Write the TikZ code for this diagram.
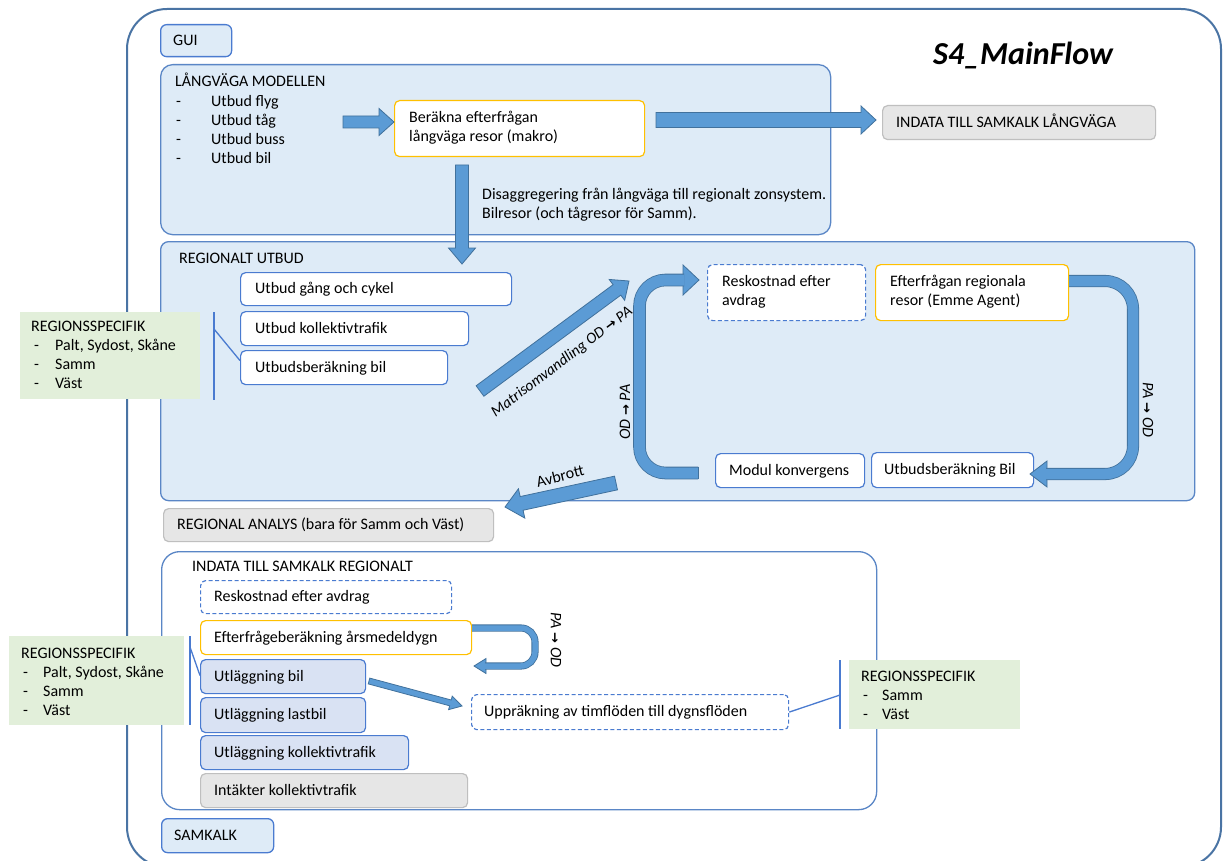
\documentclass[tikz,border=0pt]{standalone}
\usepackage{fontspec}
\setmainfont{Carlito}
\newfontfamily\symf{DejaVu Sans}
\usetikzlibrary{calc}
\definecolor{regfill}{HTML}{DEEBF7}
\definecolor{regdraw}{HTML}{5A86C6}
\definecolor{framec}{HTML}{4A74A4}
\definecolor{boxdraw}{HTML}{4A7BD0}
\definecolor{arrfill}{HTML}{5B9BD5}
\definecolor{arrdraw}{HTML}{41719C}
\definecolor{orng}{HTML}{FFC000}
\definecolor{grayfill}{HTML}{E6E6E6}
\definecolor{graydraw}{HTML}{BFBFBF}
\definecolor{grn}{HTML}{E2EFDA}
\definecolor{utlfill}{HTML}{D9E2F3}
% straight block arrow: #1 tail, #2 tip, #3 half shaft, #4 half head, #5 head length
\newcommand{\barrow}[5]{%
  \coordinate (baC) at ($(#2)!#5!(#1)$);
  \filldraw[blockarrow] ($(#1)!#3!90:(#2)$) -- ($(baC)!#3!-90:(#1)$) -- ($(baC)!#4!-90:(#1)$) -- (#2) -- ($(baC)!#4!90:(#1)$) -- ($(baC)!#3!90:(#1)$) -- ($(#1)!#3!-90:(#2)$) -- cycle;}
% arrow head only: #1 base centre, #2 tip, #3 half width
\newcommand{\lhead}[3]{%
  \filldraw[blockarrow] ($(#1)!#3!90:(#2)$) -- (#2) -- ($(#1)!#3!-90:(#2)$) -- cycle;}
\newcommand{\rarr}{{\upshape\symf\bfseries\fontsize{13}{15}\selectfont →}}
\tikzset{
  region/.style={draw=regdraw, fill=regfill, line width=1.3pt, anchor=north west, inner sep=0pt},
  wbox/.style={draw=boxdraw, fill=white, line width=1.2pt, rounded corners=5pt, anchor=north west, inner sep=0pt},
  obox/.style={wbox, draw=orng},
  dbox/.style={wbox, dash pattern=on 4pt off 2.5pt},
  gbox/.style={wbox, draw=graydraw, fill=grayfill},
  ubox/.style={wbox, fill=utlfill},
  greenbox/.style={fill=grn, anchor=north west, inner sep=0pt},
  tone/.style={anchor=west, inner sep=0pt, text height=12pt, text depth=3pt},
  ttwo/.style={anchor=west, inner sep=0pt, align=left},
  tline/.style={anchor=base west, inner sep=0pt},
  lbl/.style={inner sep=0pt, font=\fontsize{16}{19}\selectfont\itshape},
  blockarrow/.style={fill=arrfill, draw=arrdraw, line width=0.8pt, line join=miter},
  shaft/.style={draw=arrdraw, line width=0.8pt, double=arrfill, double distance=#1},
  endcap/.style={draw=arrdraw, line width=0.8pt},
  bracket/.style={draw=boxdraw, line width=1.3pt},
}
\begin{document}
\begin{tikzpicture}[x=1pt,y=-1pt,font=\fontsize{16}{19.5}\selectfont]
\fill[white] (0,0) rectangle (1230,861);
\useasboundingbox (0,0) rectangle (1230,861);
% outer frame
\draw[draw=framec, line width=2pt, rounded corners=40pt] (127,9) rectangle (1221,867);
\node[font=\fontsize{32}{38}\selectfont\bfseries\itshape, inner sep=0pt] (title) at (1023,55) {S4\_MainFlow};

% GUI
\node[region, draw=boxdraw, rounded corners=6pt, minimum width=71, minimum height=32] (gui) at (160,24) {};
\node[tone] at ($(gui.west)+(13,0)$) {GUI};

% LANGVAGA
\node[region, rounded corners=12pt, minimum width=670, minimum height=170] (lv) at (160,64) {};
\node[tline] at (175,87) {LÅNGVÄGA MODELLEN};
\node[tline] at (176,107) {-};\node[tline] at (211,107) {Utbud flyg};
\node[tline] at (176,126) {-};\node[tline] at (211,126) {Utbud tåg};
\node[tline] at (176,145) {-};\node[tline] at (211,145) {Utbud buss};
\node[tline] at (176,164) {-};\node[tline] at (211,164) {Utbud bil};
\node[obox, minimum width=250, minimum height=56] (ber) at (394,100) {};
\node[ttwo] at ($(ber.west)+(15,-1)$) {Beräkna efterfrågan\\långväga resor (makro)};
\node[tline] at (482,199) {Disaggregering från långväga till regionalt zonsystem.};
\node[tline] at (482,218) {Bilresor (och tågresor för Samm).};

\node[gbox, minimum width=273, minimum height=34] (ilv) at (882,105) {};
\node[tone] at ($(ilv.west)+(14,0)$) {INDATA TILL SAMKALK LÅNGVÄGA};

% REGIONALT UTBUD
\node[region, rounded corners=8pt, minimum width=1034, minimum height=259] (ru) at (160,241) {};
\node[tline] at (179,263) {REGIONALT UTBUD};
\node[wbox, minimum width=271, minimum height=33] (ugc) at (240,272) {};
\node[tone] at ($(ugc.west)+(15,0)$) {Utbud gång och cykel};
\node[wbox, minimum width=228, minimum height=34] (ukt) at (240,311) {};
\node[tone] at ($(ukt.west)+(15,0)$) {Utbud kollektivtrafik};
\node[wbox, minimum width=207, minimum height=34] (ubil) at (240,350) {};
\node[tone] at ($(ubil.west)+(15,0)$) {Utbudsberäkning bil};

\node[dbox, minimum width=158, minimum height=56] (rek) at (707,264) {};
\node[ttwo] at ($(rek.west)+(15,-1)$) {Reskostnad efter\\avdrag};
\node[obox, minimum width=193, minimum height=56] (efr) at (875,264) {};
\node[ttwo] at ($(efr.west)+(15,-1)$) {Efterfrågan regionala\\resor (Emme Agent)};
\node[wbox, minimum width=149, minimum height=34] (mk) at (715,453) {};
\node[tone] at ($(mk.west)+(14,0)$) {Modul konvergens};
\node[wbox, minimum width=162, minimum height=35] (ubb) at (871,452) {};
\node[tone] at ($(ubb.west)+(13,0)$) {Utbudsberäkning Bil};

% green box 1
\node[greenbox, minimum width=180, minimum height=87] (g1) at (20,312) {};
\node[tline] at (31,331) {REGIONSSPECIFIK};
\node[tline] at (34,350) {-};\node[tline] at (55,350) {Palt, Sydost, Skåne};
\node[tline] at (34,369) {-};\node[tline] at (55,369) {Samm};
\node[tline] at (34,388) {-};\node[tline] at (55,388) {Väst};
\coordinate (b1t) at (214,312);
\coordinate (b1b) at (214,400);
\coordinate (b1m) at (214,329);
\draw[bracket] (b1t) -- (b1b);
\draw[bracket] (b1m) -- ($(ubil.north west)!0.3!(ubil.south west)$);

% REGIONAL ANALYS
\node[gbox, minimum width=330, minimum height=33] (ra) at (163,508) {};
\node[tone] at ($(ra.west)+(14,0)$) {REGIONAL ANALYS (bara för Samm och Väst)};

% INDATA REGIONALT
\node[region, fill=white, rounded corners=18pt, minimum width=715, minimum height=258] (ir) at (161,551) {};
\node[tline] at (192,571) {INDATA TILL SAMKALK REGIONALT};
\node[dbox, minimum width=251, minimum height=33] (rek2) at (200,580) {};
\node[tone] at ($(rek2.west)+(14,0)$) {Reskostnad efter avdrag};
\node[obox, minimum width=271, minimum height=34] (efb) at (200,620) {};
\node[tone] at ($(efb.west)+(14,0)$) {Efterfrågeberäkning årsmedeldygn};
\node[ubox, minimum width=165, minimum height=34] (ub) at (200,659) {};
\node[tone] at ($(ub.west)+(14,0)$) {Utläggning bil};
\node[ubox, minimum width=165, minimum height=35] (ul) at (200,697) {};
\node[tone] at ($(ul.west)+(14,0)$) {Utläggning lastbil};
\node[ubox, minimum width=208, minimum height=34] (uk) at (200,735) {};
\node[tone] at ($(uk.west)+(14,0)$) {Utläggning kollektivtrafik};
\node[gbox, minimum width=267, minimum height=34] (ik) at (200,773) {};
\node[tone] at ($(ik.west)+(14,0)$) {Intäkter kollektivtrafik};
\node[dbox, minimum width=317, minimum height=35] (upr) at (471,694) {};
\node[tone] at ($(upr.west)+(13,0)$) {Uppräkning av timflöden till dygnsflöden};

% SAMKALK
\node[region, draw=boxdraw, rounded corners=6pt, minimum width=112, minimum height=34] (sk) at (161,818) {};
\node[tone] at ($(sk.west)+(13,0)$) {SAMKALK};

% green box 2
\node[greenbox, minimum width=175, minimum height=89] (g2) at (9,636) {};
\node[tline] at (21,658) {REGIONSSPECIFIK};
\node[tline] at (23,677) {-};\node[tline] at (43,677) {Palt, Sydost, Skåne};
\node[tline] at (23,696) {-};\node[tline] at (43,696) {Samm};
\node[tline] at (23,715) {-};\node[tline] at (43,715) {Väst};
\coordinate (b2t) at (190,636);
\coordinate (b2b) at (190,725);
\coordinate (b2m) at (190,647);
\draw[bracket] (b2t) -- (b2b);
\draw[bracket] (b2m) -- ($(ub.north west)!0.47!(ub.south west)$);

% green box 3
\node[greenbox, minimum width=171, minimum height=69] (g3) at (849,660) {};
\node[tline] at (861,681) {REGIONSSPECIFIK};
\node[tline] at (863,700) {-};\node[tline] at (882,700) {Samm};
\node[tline] at (863,719) {-};\node[tline] at (882,719) {Väst};
\coordinate (b3t) at (840,660);
\coordinate (b3b) at (840,729);
\coordinate (b3m) at (840,695);
\draw[bracket] (b3t) -- (b3b);
\draw[bracket] (b3m) -- (upr.east);

% straight block arrows
\coordinate (a1s) at (343,122); \coordinate (a1e) at (394,122);
\barrow{a1s}{a1e}{6pt}{13.5pt}{15pt}
\coordinate (a2s) at (656,120); \coordinate (a2e) at (876,120);
\barrow{a2s}{a2e}{7.5pt}{14pt}{15pt}
\coordinate (a3s) at (462,165); \coordinate (a3e) at (462,264);
\barrow{a3s}{a3e}{6.5pt}{13.5pt}{16pt}
\coordinate (a4s) at (480,391); \coordinate (a4e) at (629,281);
\barrow{a4s}{a4e}{6.5pt}{13pt}{15pt}
\coordinate (a5s) at (616,483); \coordinate (a5e) at (505,507);
\barrow{a5s}{a5e}{7pt}{15pt}{17pt}
\coordinate (a6s) at (369,681); \coordinate (a6e) at (462,706);
\barrow{a6s}{a6e}{3pt}{7pt}{12pt}

% left loop
\coordinate (ls0) at (698,473); \coordinate (ls1) at (639.5,473);
\coordinate (ls2) at (639.5,280); \coordinate (ls3) at (684,280);
\coordinate (lhb) at (683,280); \coordinate (lht) at (699,280);
\lhead{lhb}{lht}{15pt}
\draw[shaft=11pt, rounded corners=26pt] (ls0) -- (ls1) -- (ls2) -- (ls3);
\draw[endcap] ($(ls0)+(0,-6.3)$) -- ($(ls0)+(0,6.3)$);

% right loop
\coordinate (rs0) at (efr.east |- 0,281); \coordinate (rs1) at (1133,281);
\coordinate (rs2) at (1133,474); \coordinate (rs3) at (1046,474);
\coordinate (rhb) at (1047,474); \coordinate (rht) at (1030,474);
\lhead{rhb}{rht}{13pt}
\draw[shaft=10.5pt, rounded corners=28pt] (rs0) -- (rs1) -- (rs2) -- (rs3);

% small loop
\coordinate (ss0) at (efb.east |- 0,628); \coordinate (ss1) at (535,628);
\coordinate (ss2) at (535,666); \coordinate (ss3) at (485,666);
\coordinate (shb) at (486,666); \coordinate (sht) at (474,666);
\lhead{shb}{sht}{7.5pt}
\draw[shaft=5.5pt, rounded corners=14pt] (ss0) -- (ss1) -- (ss2) -- (ss3);

% labels
\node[lbl, font=\fontsize{15.5}{18}\selectfont\itshape, rotate=37] at (562,362) {Matrisomvandling OD \rarr{} PA};
\node[lbl, font=\fontsize{16}{19}\selectfont, rotate=14] at (560,476) {Avbrott};
\node[lbl, rotate=90] at (625,412) {OD \rarr{} PA};
\node[lbl, rotate=-90] at (1148,410) {PA \rarr{} OD};
\node[lbl, rotate=-90] at (556,640) {PA \rarr{} OD};
\end{tikzpicture}
\end{document}
